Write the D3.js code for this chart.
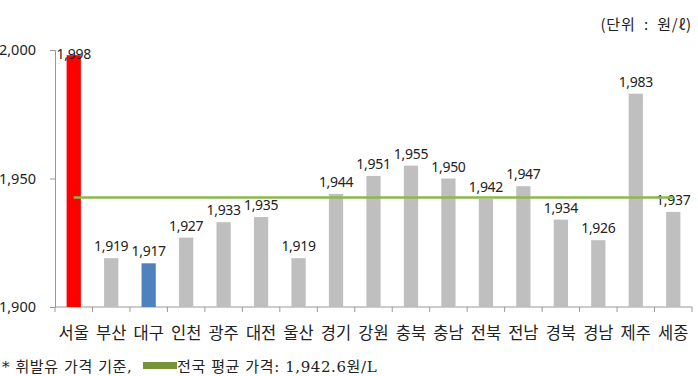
<!DOCTYPE html>
<html>
<head>
<meta charset="utf-8">
<script src="https://cdn.jsdelivr.net/npm/d3@7"></script>
<style>
  body { margin: 0; background: #fff; }
  svg { display: block; }
  text { font-family: "Noto Sans CJK KR", "Noto Sans", sans-serif; fill: #222; }
  text.num { font-family: "Noto Sans", "Noto Sans CJK KR", sans-serif; }
  text.foot { font-family: "DejaVu Serif", "Noto Sans CJK KR", serif; }
</style>
</head>
<body>
<svg id="chart" width="698" height="376"></svg>
<script>
// Regional gasoline prices (won per litre)
const regions = ['서울', '부산', '대구', '인천', '광주', '대전', '울산', '경기', '강원', '충북', '충남', '전북', '전남', '경북', '경남', '제주', '세종'];
const prices = [1998, 1919, 1917, 1927, 1933, 1935, 1919, 1944, 1951, 1955, 1950, 1942, 1947, 1934, 1926, 1983, 1937];
const nationalAvg = 1942.6;
const yTicks = [1900, 1950, 2000];

const svg = d3.select('#chart');
const margin = { left: 55, right: 6, top: 50, bottom: 69 };
const width = 698, height = 376;

const x = d3.scaleBand()
  .domain(regions)
  .range([margin.left, width - margin.right])
  .paddingInner(0.62)
  .paddingOuter(0.31);

const y = d3.scaleLinear()
  .domain([1900, 2000])
  .range([height - margin.bottom, margin.top]);

const barColor = d => d === '서울' ? '#ff0000' : d === '대구' ? '#4f81bd' : '#bfbfbf';

// axes
const yAxis = svg.append('g')
  .attr('transform', `translate(${margin.left},0)`)
  .call(d3.axisLeft(y).tickValues(yTicks).tickSize(5).tickPadding(14).tickFormat(d3.format(',')));
yAxis.select('.domain').attr('stroke', '#999');
yAxis.selectAll('.tick line').attr('stroke', '#999');
yAxis.selectAll('.tick text').attr('class', 'num').attr('font-size', 14.5).attr('fill', '#222');

const base = y(1900);
const step = x.step();
const x0 = margin.left;
const xAxis = svg.append('g');
xAxis.append('line')
  .attr('x1', x0).attr('x2', width - margin.right)
  .attr('y1', base).attr('y2', base)
  .attr('stroke', '#999');
xAxis.selectAll('line.tk')
  .data(d3.range(regions.length + 1))
  .join('line')
  .attr('class', 'tk')
  .attr('x1', i => x0 + i * step).attr('x2', i => x0 + i * step)
  .attr('y1', base).attr('y2', base + 5)
  .attr('stroke', '#999');

svg.append('g').selectAll('text')
  .data(regions)
  .join('text')
  .attr('x', d => x(d) + x.bandwidth() / 2)
  .attr('y', base + 32)
  .attr('text-anchor', 'middle')
  .attr('font-size', 16.5)
  .text(d => d);

// bars
svg.append('g').selectAll('rect')
  .data(regions)
  .join('rect')
  .attr('x', d => x(d))
  .attr('width', x.bandwidth())
  .attr('y', (d, i) => y(prices[i]))
  .attr('height', (d, i) => base - y(prices[i]))
  .attr('fill', d => barColor(d));

// value labels (kept inside the plot area like the original)
svg.append('g').selectAll('text')
  .data(regions)
  .join('text')
  .attr('class', 'num')
  .attr('x', d => x(d) + x.bandwidth() / 2)
  .attr('y', (d, i) => Math.max(y(prices[i]) - 7, margin.top + 9))
  .attr('text-anchor', 'middle')
  .attr('font-size', 14)
  .attr('letter-spacing', -0.3)
  .text((d, i) => d3.format(',')(prices[i]));

// national average line
svg.append('line')
  .attr('x1', x(regions[0]) + x.bandwidth() / 2)
  .attr('x2', x(regions[regions.length - 1]) + x.bandwidth() / 2)
  .attr('y1', y(nationalAvg)).attr('y2', y(nationalAvg))
  .attr('stroke', '#8db84a')
  .attr('stroke-width', 2.5);

// unit label
svg.append('text')
  .attr('x', 692).attr('y', 30)
  .attr('text-anchor', 'end')
  .attr('font-size', 15)
  .attr('letter-spacing', 0.8)
  .attr('fill', '#333')
  .style('white-space', 'pre')
  .text('(단위  :  원/ℓ)');

// footnote with legend swatch
svg.append('text')
  .attr('class', 'foot')
  .attr('x', 2).attr('y', 372)
  .attr('font-size', 15)
  .attr('letter-spacing', 0.6)
  .attr('fill', '#333')
  .text('* 휘발유 가격 기준,');
svg.append('rect')
  .attr('x', 143).attr('y', 362)
  .attr('width', 34).attr('height', 7)
  .attr('fill', '#77933c');
svg.append('text')
  .attr('class', 'foot')
  .attr('x', 177).attr('y', 372)
  .attr('font-size', 15)
  .attr('letter-spacing', 0.6)
  .attr('fill', '#333')
  .text(`전국 평균 가격: ${d3.format(',.1f')(nationalAvg)}원/L`);
</script>
</body>
</html>
